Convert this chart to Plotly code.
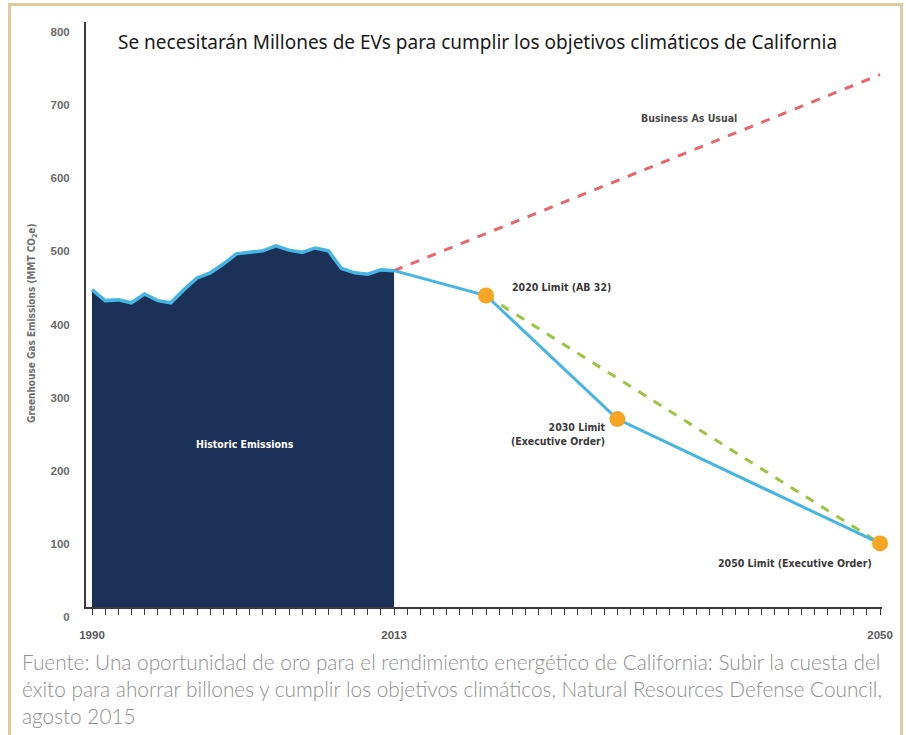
import plotly.graph_objects as go

# ---- data (MMT CO2e) ----
hist_years = list(range(1990, 2014))
hist_values = [434, 419, 420, 416, 428, 419, 416, 434, 450, 457, 469, 483,
               485, 487, 494, 488, 485, 491, 487, 463, 457, 455, 461, 460]

path_years = [2013, 2020, 2030, 2050]
path_values = [460, 426, 257, 87]

bau_years = [2013, 2050]
bau_values = [460, 728]

linear_years = [2020, 2050]
linear_values = [426, 87]

limit_years = [2020, 2030, 2050]
limit_values = [426, 257, 87]

y_ticks = [0, 100, 200, 300, 400, 500, 600, 700, 800]
x_ticks = [1990, 2013, 2050]

# ---- canvas geometry ----
W, H = 906, 735
ML, MR, MT, MB = 86, 24, 22, 128
PW, PH = W - ML - MR, H - MT - MB
X0, X1 = 1989.543, 2050.15
Y0, Y1 = 0, 800


def px_x(px):
    return (px - ML) / PW


def px_y(py):
    return (H - MB - py) / PH


NAVY = "#1c3157"
SKY = "#45b5e3"
ORANGE = "#f6a623"
RED = "#e8656b"
GREEN = "#9cc43f"
LABEL = "Liberation Sans Narrow, DejaVu Sans Condensed, Arial Narrow, sans-serif"

fig = go.Figure()

fig.add_trace(go.Scatter(
    x=hist_years, y=hist_values, mode="lines", fill="tozeroy",
    fillcolor=NAVY, line=dict(color=SKY, width=3.5), hoverinfo="skip"))

fig.add_trace(go.Scatter(
    x=bau_years, y=bau_values, mode="lines",
    line=dict(color=RED, width=3, dash="dash"), hoverinfo="skip"))

fig.add_trace(go.Scatter(
    x=linear_years, y=linear_values, mode="lines",
    line=dict(color=GREEN, width=3, dash="dash"), hoverinfo="skip"))

fig.add_trace(go.Scatter(
    x=path_years, y=path_values, mode="lines",
    line=dict(color=SKY, width=3), hoverinfo="skip"))

fig.add_trace(go.Scatter(
    x=limit_years, y=limit_values, mode="markers", cliponaxis=False,
    marker=dict(color=ORANGE, size=16, line=dict(width=0)), hoverinfo="skip"))

annotations = [
    dict(text="Se necesitarán Millones de EVs para cumplir los objetivos climáticos de California",
         x=px_x(116), y=px_y(42), xanchor="left", yanchor="middle",
         font=dict(family="Noto Sans, Open Sans, sans-serif", size=19, color="#1a1a1a")),
    dict(text="Greenhouse Gas Emissions (MMT CO<sub>2</sub>e)", textangle=-90,
         x=px_x(33), y=px_y(323), xanchor="center", yanchor="middle",
         font=dict(family=LABEL, size=10, color="#6e6e6e", weight="bold")),
    dict(text="Business As Usual",
         x=px_x(689), y=px_y(118), xanchor="center", yanchor="middle",
         font=dict(family=LABEL, size=10.5, color="#4a4a4a", weight="bold")),
    dict(text="2020 Limit (AB 32)",
         x=px_x(510), y=px_y(287), xanchor="left", yanchor="middle",
         font=dict(family=LABEL, size=10.5, color="#3a3a3a", weight="bold")),
    dict(text="2030 Limit<br>(Executive Order)", align="right",
         x=px_x(608), y=px_y(434), xanchor="right", yanchor="middle",
         font=dict(family=LABEL, size=10.5, color="#3a3a3a", weight="bold")),
    dict(text="2050 Limit (Executive Order)",
         x=px_x(874), y=px_y(563), xanchor="right", yanchor="middle",
         font=dict(family=LABEL, size=10.5, color="#3a3a3a", weight="bold")),
    dict(text="Historic Emissions",
         x=px_x(245), y=px_y(444), xanchor="center", yanchor="middle",
         font=dict(family=LABEL, size=10.5, color="#ffffff", weight="bold")),
    dict(text="Fuente: Una oportunidad de oro para el rendimiento energético de California: Subir la cuesta del<br>"
              "éxito para ahorrar billones y cumplir los objetivos climáticos, Natural Resources Defense Council,<br>"
              "agosto 2015",
         align="left", x=px_x(20), y=px_y(647), xanchor="left", yanchor="top",
         font=dict(family="Lato, Open Sans, sans-serif", size=20.8, color="#8f8f8f", weight=300)),
]
for a in annotations:
    a.update(xref="paper", yref="paper", showarrow=False)

fig.update_layout(
    width=W, height=H,
    margin=dict(l=ML, r=MR, t=MT, b=MB, pad=0),
    paper_bgcolor="white", plot_bgcolor="white",
    showlegend=False,
    annotations=annotations,
    shapes=[dict(type="rect", xref="paper", yref="paper",
                 x0=px_x(9.5), x1=px_x(901.5), y0=px_y(745), y1=px_y(4.5),
                 line=dict(color="#dccb9c", width=3), layer="below")],
    xaxis=dict(
        range=[X0, X1], showgrid=False, zeroline=False,
        showline=True, linecolor="#3c3c3c", linewidth=1.5,
        tickmode="array", tickvals=x_ticks, ticktext=[str(v) for v in x_ticks],
        ticks="outside", ticklen=6, tickwidth=1.2, tickcolor="#3c3c3c",
        minor=dict(ticks="outside", tick0=1990, dtick=1, ticklen=6,
                   tickwidth=1.2, tickcolor="#3c3c3c", showgrid=False),
        ticklabelstandoff=10,
        tickfont=dict(family="Liberation Sans, Arial, sans-serif", size=11.5,
                      color="#5a5a5a", weight="bold"),
    ),
    yaxis=dict(
        range=[Y0, Y1], showgrid=False, zeroline=False,
        showline=True, linecolor="#3c3c3c", linewidth=2,
        tickmode="array", tickvals=y_ticks, ticktext=[str(v) for v in y_ticks],
        ticks="", ticklabelshift=10, ticklabelstandoff=12,
        tickfont=dict(family="Liberation Sans, Arial, sans-serif", size=11.5,
                      color="#6a6a6a", weight="bold"),
    ),
)

fig.write_html("out.html")
